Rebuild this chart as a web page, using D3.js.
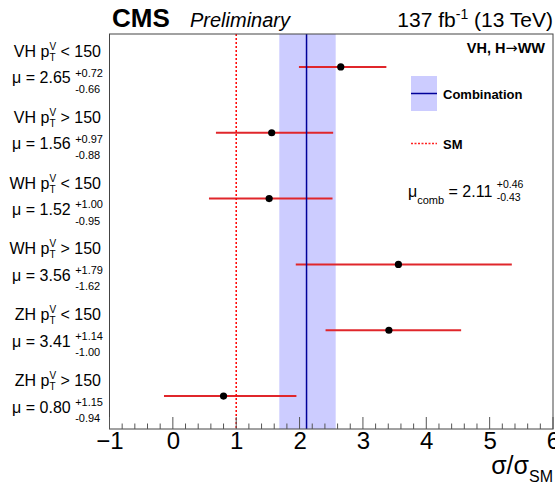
<!DOCTYPE html>
<meta charset="utf-8">
<style>
    body { margin: 0; background: #fff; }
    svg { font-family: "Liberation Sans", Arial, sans-serif; }
    text { white-space: pre; }
</style>
<svg width="555" height="488"></svg>
<script src="https://cdn.jsdelivr.net/npm/d3@7"></script>
<script>
    // channel results
    var procs = ["VH", "VH", "WH", "WH", "ZH", "ZH"];
    var cuts = ["< 150", "> 150", "< 150", "> 150", "< 150", "> 150"];
    var mu = [2.65, 1.56, 1.52, 3.56, 3.41, 0.80];
    var errUp = [0.72, 0.97, 1.00, 1.79, 1.14, 1.15];
    var errDown = [0.66, 0.88, 0.95, 1.62, 1.00, 0.94];
    // combination and SM
    var comb = 2.11, combUp = 0.46, combDown = 0.43;
    var smValue = 1;
    var xTicks = [-1, 0, 1, 2, 3, 4, 5, 6];

    var svg = d3.select("svg"),
        plotL = 109.5, plotR = 553, plotT = 34, plotB = 429;

    var x = d3.scaleLinear().domain([-1, 6]).range([plotL, plotR]);
    var y = d3.scaleBand().domain(d3.range(mu.length)).range([plotT, plotB]);

    // lay out a run of text pieces left to right, stacks = sup over sub
    function rich(g, parts) {
        var pos = 0;
        parts.forEach(function(p) {
            if (p.stack) {
                var w = 0;
                p.stack.forEach(function(s) {
                    var t = g.append("text").attr("x", pos).attr("y", s.dy)
                        .style("font-size", s.size + "px").text(s.text);
                    w = Math.max(w, t.node().getComputedTextLength());
                });
                pos += w;
            } else {
                var t = g.append("text").attr("x", pos).attr("y", p.dy || 0)
                    .style("font-size", p.size + "px")
                    .style("font-weight", p.weight || null)
                    .style("font-style", p.style || null)
                    .style("font-family", p.family || null)
                    .text(p.text);
                pos += t.node().getComputedTextLength();
            }
        });
        return pos;
    }
    function richRight(xr, yb, parts) {
        var g = svg.append("g");
        var w = rich(g, parts);
        g.attr("transform", "translate(" + (xr - w) + "," + yb + ")");
        return g;
    }
    function richLeft(xl, yb, parts) {
        var g = svg.append("g");
        rich(g, parts);
        g.attr("transform", "translate(" + xl + "," + yb + ")");
        return g;
    }

    // combination band
    svg.append("rect")
        .attr("x", x(comb - combDown)).attr("y", plotT)
        .attr("width", x(comb + combUp) - x(comb - combDown))
        .attr("height", plotB - plotT)
        .attr("fill", "#ccccff");

    // error bars and points
    var rows = svg.append("g").selectAll("g").data(mu).enter().append("g");
    rows.append("line")
        .attr("x1", function(d, i) { return x(d - errDown[i]); })
        .attr("x2", function(d, i) { return x(d + errUp[i]); })
        .attr("y1", function(d, i) { return y(i) + y.bandwidth() / 2; })
        .attr("y2", function(d, i) { return y(i) + y.bandwidth() / 2; })
        .attr("stroke", "#e0262b").attr("stroke-width", 2);
    rows.append("circle")
        .attr("cx", function(d) { return x(d); })
        .attr("cy", function(d, i) { return y(i) + y.bandwidth() / 2; })
        .attr("r", 3.6).attr("fill", "#000");

    // SM line
    svg.append("line")
        .attr("x1", x(smValue)).attr("x2", x(smValue))
        .attr("y1", plotT).attr("y2", plotB)
        .attr("stroke", "#ff0000").attr("stroke-width", 1.5)
        .attr("stroke-dasharray", "2,2");

    // combination line
    svg.append("line")
        .attr("x1", x(comb)).attr("x2", x(comb))
        .attr("y1", plotT).attr("y2", plotB)
        .attr("stroke", "#000099").attr("stroke-width", 1.5);

    // frame
    svg.append("rect")
        .attr("x", plotL).attr("y", plotT)
        .attr("width", plotR - plotL).attr("height", plotB - plotT)
        .attr("fill", "none").attr("stroke", "#444").attr("stroke-width", 1);

    // x axis ticks (inward)
    var minor = d3.range(-1, 6.001, 0.2);
    svg.append("g").selectAll("line").data(minor).enter().append("line")
        .attr("x1", function(d) { return x(d); }).attr("x2", function(d) { return x(d); })
        .attr("y1", plotB).attr("y2", function(d) {
            return Math.abs(d - Math.round(d)) < 1e-6 ? plotB - 12 : plotB - 5.5;
        })
        .attr("stroke", "#555").attr("stroke-width", 1);

    var axis = d3.axisBottom(x).tickValues(xTicks).tickSize(0).tickPadding(0)
        .tickFormat(function(d) { return d < 0 ? "\u2212" + (-d) : d; });
    var ax = svg.append("g").attr("transform", "translate(0," + plotB + ")").call(axis);
    ax.select(".domain").remove();
    ax.selectAll("text")
        .attr("y", 20).attr("dy", 0)
        .style("font-family", "Liberation Sans, Arial, sans-serif")
        .style("font-size", "24px").attr("fill", "#000");

    // axis title
    richRight(553, 474, [
        { text: "\u03c3/\u03c3", size: 25 },
        { text: "SM", size: 16, dy: 8 }
    ]);

    // row labels
    mu.forEach(function(m, i) {
        var c = y(i) + y.bandwidth() / 2;
        richRight(101, c - 10, [
            { text: procs[i] + " p", size: 16 },
            { stack: [{ text: "V", size: 10, dy: -7 }, { text: "T", size: 10, dy: 4 }] },
            { text: " " + cuts[i], size: 16 }
        ]);
        richRight(103, c + 16.5, [
            { text: "\u03bc = " + m.toFixed(2) + " ", size: 16 },
            { stack: [{ text: "+" + errUp[i].toFixed(2), size: 11, dy: -6.6 },
                      { text: "-" + errDown[i].toFixed(2), size: 11, dy: 9.5 }] }
        ]);
    });

    // header
    richLeft(112, 27, [{ text: "CMS", size: 26, weight: "bold" }]);
    richLeft(190, 27, [{ text: "Preliminary", size: 20, style: "italic" }]);
    richRight(553, 27, [
        { text: "137 fb", size: 21 },
        { text: "-1", size: 14, dy: -8 },
        { text: " (13 TeV)", size: 21 }
    ]);

    // legend
    richRight(545, 53, [
        { text: "VH, H", size: 14.5, weight: "bold" },
        { text: "\u2192", size: 14.5, family: "DejaVu Sans" },
        { text: "WW", size: 14.5, weight: "bold" }
    ]);
    svg.append("rect").attr("x", 411).attr("y", 76).attr("width", 26).attr("height", 35)
        .attr("fill", "#ccccff");
    svg.append("line").attr("x1", 411).attr("x2", 437).attr("y1", 93.5).attr("y2", 93.5)
        .attr("stroke", "#000099").attr("stroke-width", 1.5);
    richLeft(443, 98.5, [{ text: "Combination", size: 13, weight: "bold" }]);
    svg.append("line").attr("x1", 411).attr("x2", 437).attr("y1", 143.5).attr("y2", 143.5)
        .attr("stroke", "#ff2020").attr("stroke-width", 1.5).attr("stroke-dasharray", "2,1.5");
    richLeft(443, 148.5, [{ text: "SM", size: 13, weight: "bold" }]);

    richLeft(408, 196.5, [
        { text: "\u03bc", size: 16 },
        { text: "comb", size: 11, dy: 7 },
        { text: " = " + comb.toFixed(2) + " ", size: 16 },
        { stack: [{ text: "+" + combUp.toFixed(2), size: 10.5, dy: -9 },
                  { text: "-" + combDown.toFixed(2), size: 10.5, dy: 4 }] }
    ]);
</script>
